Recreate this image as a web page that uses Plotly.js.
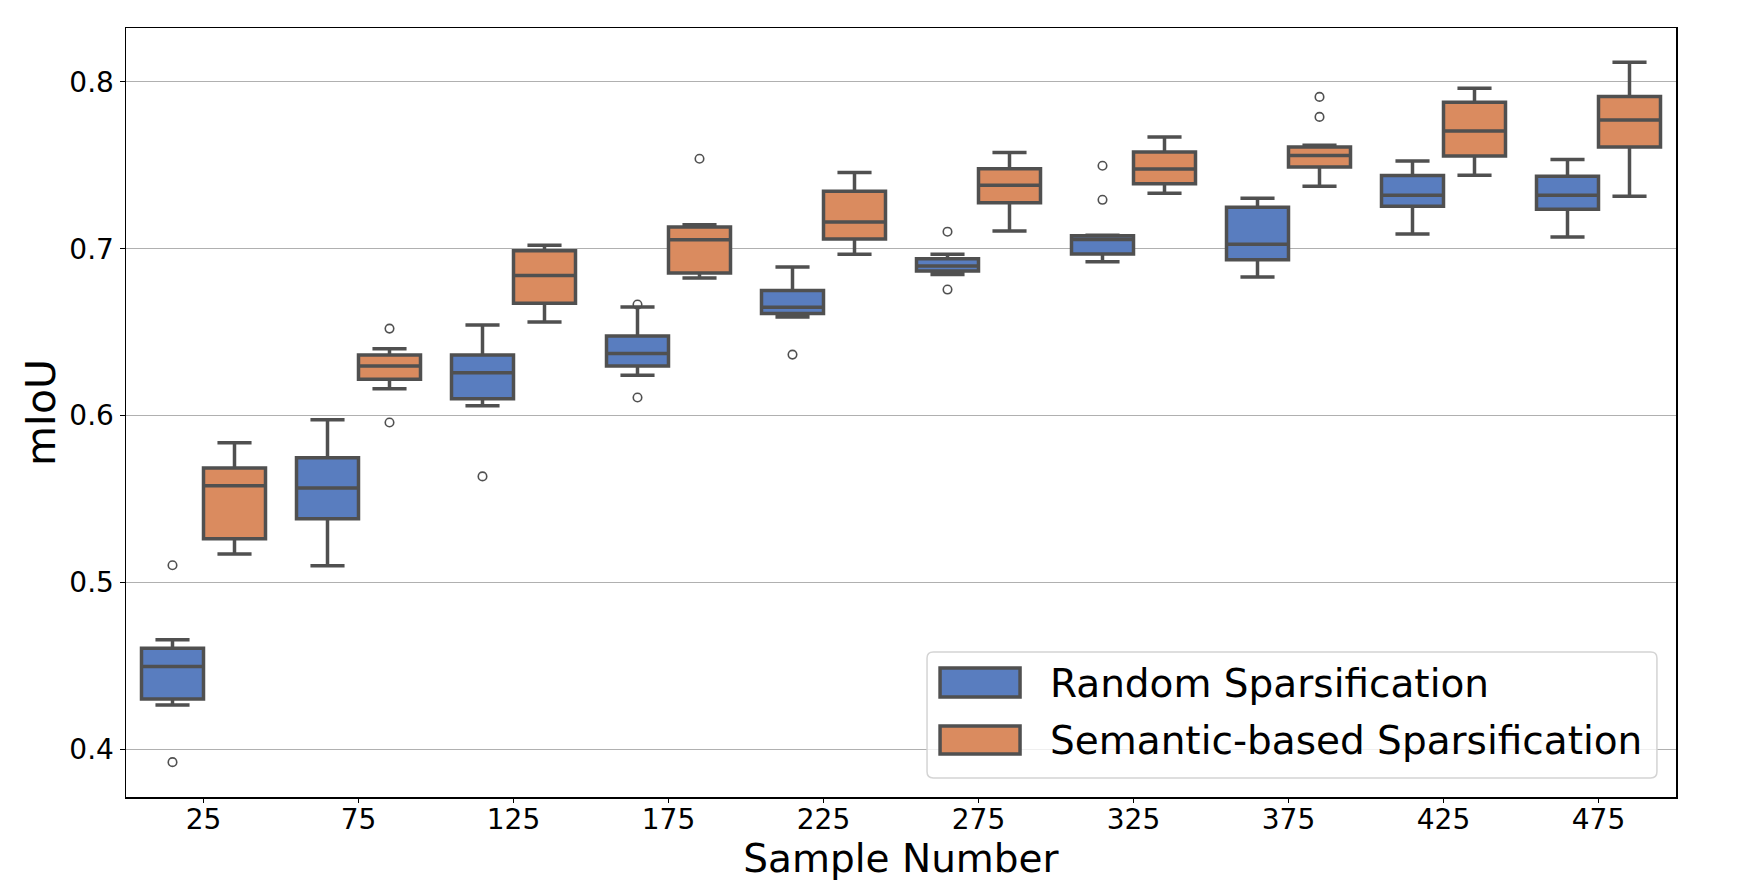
<!DOCTYPE html>
<html>
<head>
<meta charset="utf-8">
<script src="https://cdn.plot.ly/plotly-3.0.1.min.js"></script>
<style>html,body{margin:0;padding:0;background:#fff;}#chart{width:1742px;height:889px;}</style>
</head>
<body>
<div id="chart"></div>
<script>
// ---------- data ----------
const categories = ['25','75','125','175','225','275','325','375','425','475'];
const seriesNames = ['Random Sparsification','Semantic-based Sparsification'];

const randomLower  = [0.4265,0.5100,0.6058,0.6242,0.6591,0.6846,0.6922,0.6830,0.7088,0.7070];
const randomQ1     = [0.4300,0.5381,0.6100,0.6297,0.6611,0.6866,0.6968,0.6934,0.7255,0.7236];
const randomMedian = [0.4495,0.5565,0.6257,0.6371,0.6649,0.6896,0.7055,0.7026,0.7321,0.7321];
const randomQ3     = [0.4605,0.5747,0.6363,0.6477,0.6750,0.6940,0.7078,0.7248,0.7439,0.7435];
const randomUpper  = [0.4655,0.5974,0.6543,0.6651,0.6890,0.6966,0.7080,0.7303,0.7525,0.7535];

const semanticLower  = [0.5170,0.6160,0.6561,0.6824,0.6966,0.7106,0.7333,0.7375,0.7441,0.7315];
const semanticQ1     = [0.5261,0.6218,0.6673,0.6854,0.7058,0.7275,0.7389,0.7489,0.7555,0.7609];
const semanticMedian = [0.5579,0.6297,0.6840,0.7054,0.7160,0.7381,0.7477,0.7559,0.7705,0.7772];
const semanticQ3     = [0.5685,0.6363,0.6988,0.7130,0.7345,0.7479,0.7579,0.7609,0.7878,0.7912];
const semanticUpper  = [0.5836,0.6400,0.7020,0.7144,0.7457,0.7577,0.7669,0.7620,0.7962,0.8118];

const randomOutlierCat   = ['25','25','125','175','175','225','275','275','325','325'];
const randomOutlierVal   = [0.5102,0.3922,0.5635,0.6665,0.6108,0.6365,0.7102,0.6755,0.7497,0.7293];
const semanticOutlierCat = ['75','75','175','375','375'];
const semanticOutlierVal = [0.6521,0.5958,0.7539,0.7910,0.7790];

const yTicks = [0.4,0.5,0.6,0.7,0.8];

// ---------- styling ----------
const FONT = 'DejaVu Sans, Liberation Sans, sans-serif';
const blue = 'rgb(89,125,191)';
const orange = 'rgb(218,139,95)';
const edge = 'rgb(80,80,80)';
const half = 0.2;      // hue offset inside a category
const boxW = 0.4;

const idx = categories.map((c,i)=>i);
function boxTrace(name, color, shift, lo, q1, med, q3, hi){
  return {
    type:'box', name:name, x: idx.map(i=>i+shift),
    lowerfence: lo, q1: q1, median: med, q3: q3, upperfence: hi,
    width: boxW, whiskerwidth: 0.55, boxpoints:false,
    fillcolor: color, line:{color:edge, width:3.5},
    showlegend:false, hoverinfo:'y'
  };
}
function outTrace(name, cats, vals, shift){
  return {
    type:'scatter', mode:'markers', name:name+' outliers',
    x: cats.map(c=>categories.indexOf(c)+shift), y: vals,
    marker:{symbol:'circle-open', size:8.5, color:edge, line:{width:1.6, color:edge}},
    showlegend:false, hoverinfo:'y'
  };
}

const data = [
  boxTrace(seriesNames[0], blue, -half, randomLower, randomQ1, randomMedian, randomQ3, randomUpper),
  boxTrace(seriesNames[1], orange, half, semanticLower, semanticQ1, semanticMedian, semanticQ3, semanticUpper),
  outTrace(seriesNames[0], randomOutlierCat, randomOutlierVal, -half),
  outTrace(seriesNames[1], semanticOutlierCat, semanticOutlierVal, half)
];

// legend frame geometry (paper units)
const L = {x0:0.5168, x1:0.9877, y0:0.0247, y1:0.1886, rx:0.004, ry:0.008};
const framePath = `M${L.x0+L.rx},${L.y0} L${L.x1-L.rx},${L.y0} Q${L.x1},${L.y0} ${L.x1},${L.y0+L.ry} L${L.x1},${L.y1-L.ry} Q${L.x1},${L.y1} ${L.x1-L.rx},${L.y1} L${L.x0+L.rx},${L.y1} Q${L.x0},${L.y1} ${L.x0},${L.y1-L.ry} L${L.x0},${L.y0+L.ry} Q${L.x0},${L.y0} ${L.x0+L.rx},${L.y0} Z`;
const sw = [{y0:0.130,y1:0.1677,c:blue,ty:0.1482},{y0:0.0559,y1:0.0923,c:orange,ty:0.0741}];

const layout = {
  width:1742, height:889,
  margin:{l:126, r:66, t:28, b:92},
  paper_bgcolor:'#ffffff', plot_bgcolor:'#ffffff',
  font:{family:FONT, color:'#000'},
  boxmode:'overlay',
  xaxis:{
    type:'linear', range:[-0.5, categories.length-0.5],
    tickvals: idx, ticktext: categories,
    showgrid:false, zeroline:false,
    showline:true, mirror:true, linecolor:'#000', linewidth:1.5,
    ticks:'outside', ticklen:4, tickwidth:1.2, tickcolor:'#000',
    ticklabelstandoff:-7,
    tickfont:{size:28, family:FONT},
    title:{text:'Sample Number', font:{size:39, family:FONT}, standoff:6}
  },
  yaxis:{
    range:[0.3713, 0.8323],
    tickvals: yTicks, tickformat:'.1f',
    showgrid:true, gridcolor:'#b0b0b0', gridwidth:1.2, zeroline:false,
    showline:true, mirror:true, linecolor:'#000', linewidth:1.5,
    ticks:'outside', ticklen:5, tickwidth:1.2, tickcolor:'#000',
    tickfont:{size:28, family:FONT},
    title:{text:'mIoU', font:{size:41, family:FONT}, standoff:1}
  },
  shapes:[
    {type:'path', xref:'paper', yref:'paper', path:framePath,
     fillcolor:'rgba(255,255,255,0.8)', line:{color:'#d4d4d4', width:1.5}},
    ...sw.map(s=>({type:'rect', xref:'paper', yref:'paper', x0:0.5252, x1:0.5768, y0:s.y0, y1:s.y1,
      fillcolor:s.c, line:{color:edge, width:3.5}}))
  ],
  annotations: sw.map((s,i)=>({xref:'paper', yref:'paper', x:0.5946, y:s.ty, xanchor:'left', yanchor:'middle',
      text:seriesNames[i], showarrow:false, font:{size:39, family:FONT, color:'#000'}}))
};

Plotly.newPlot('chart', data, layout, {displayModeBar:false, staticPlot:true});
</script>
</body>
</html>
